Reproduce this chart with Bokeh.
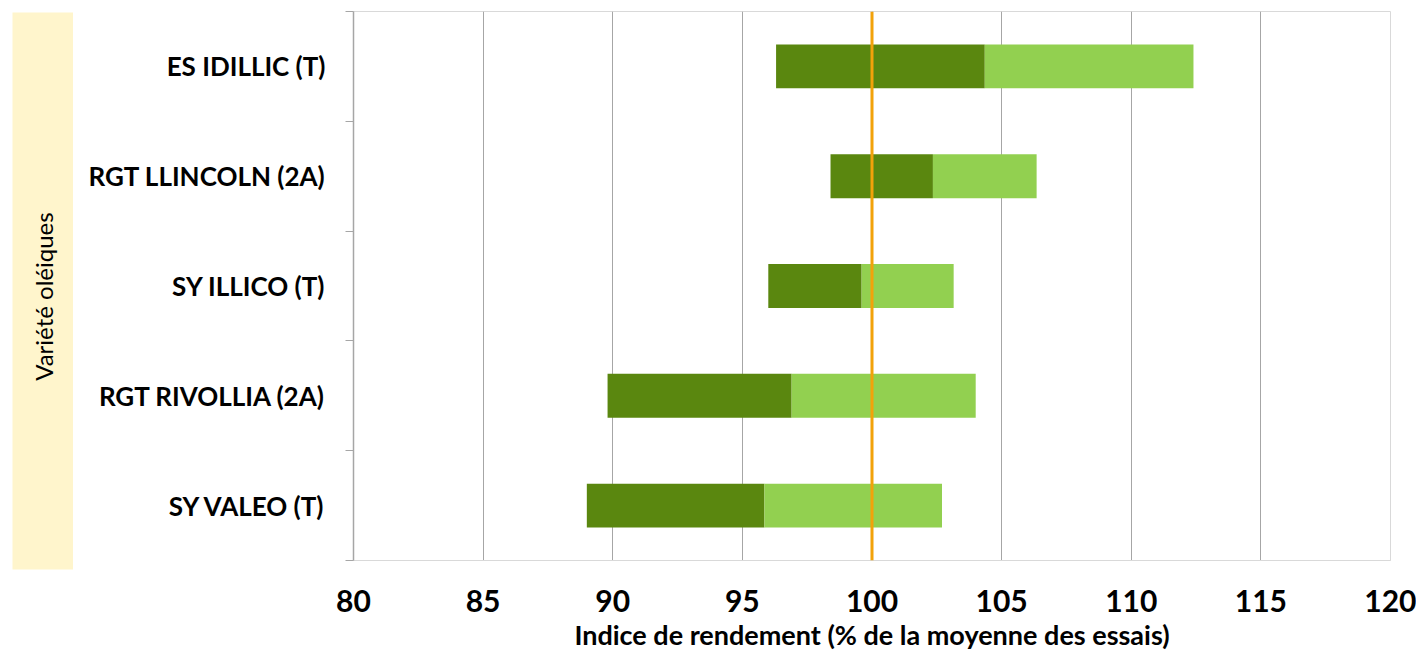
import math
from bokeh.plotting import figure
from bokeh.layouts import row
from bokeh.models import FixedTicker, Span
from bokeh.core.properties import value
from bokeh.embed import file_html
from bokeh.resources import INLINE

# --- data ---
varieties = ["ES IDILLIC (T)", "RGT LLINCOLN (2A)", "SY ILLICO (T)", "RGT RIVOLLIA (2A)", "SY VALEO (T)"]
low_vals = [96.3, 98.4, 96.0, 89.8, 89.0]
mean_vals = [104.35, 102.35, 99.6, 96.9, 95.85]
high_vals = [112.4, 106.35, 103.15, 104.0, 102.7]
x_ticks = [80, 85, 90, 95, 100, 105, 110, 115, 120]
reference_value = 100
y_title = "Variété oléiques"

n = len(varieties)
ypos = [n - 1 - i + 0.5 for i in range(n)]

FONT = "Lato"
DARK = "#5A870F"
LIGHT = "#92D050"
W, H = 1416, 654
BAND_W = 73

# ---- left band with the category title ----
band = figure(width=BAND_W, height=H, output_backend="svg", toolbar_location=None,
              x_range=(0, 1), y_range=(0, 1),
              min_border_left=12, min_border_right=0, min_border_top=12, min_border_bottom=H - 569)
band.frame_align = False
band.axis.visible = False
band.grid.visible = False
band.outline_line_color = None
band.background_fill_color = "#FFF5CC"
band.border_fill_color = "white"
band.text(x=[0.5], y=[0.49], text=[y_title], angle=math.pi / 2,
          text_align="center", text_baseline="middle",
          text_font=value(FONT), text_font_size="24px", text_color="black")

# ---- main chart ----
p = figure(width=W - BAND_W, height=H, output_backend="svg", toolbar_location=None,
           x_range=(80, 120), y_range=(0, n),
           min_border_left=353 - BAND_W, min_border_right=W - 1390, min_border_top=11,
           min_border_bottom=H - 560)
p.frame_align = False
p.background_fill_color = "white"
p.border_fill_color = "white"
p.outline_line_color = "#D9D9D9"
p.outline_line_width = 1

p.hbar(y=ypos, left=low_vals, right=mean_vals, height=0.4, fill_color=DARK, line_color=None)
p.hbar(y=ypos, left=mean_vals, right=high_vals, height=0.4, fill_color=LIGHT, line_color=None)

p.add_layout(Span(location=reference_value, dimension="height", line_color="#F2A20A", line_width=3))

# x axis
p.xaxis.ticker = FixedTicker(ticks=x_ticks)
p.xaxis.major_tick_line_color = None
p.xaxis.minor_tick_line_color = None
p.xaxis.axis_line_color = "#D9D9D9"
p.xaxis.major_label_text_font = FONT
p.xaxis.major_label_text_font_style = "bold"
p.xaxis.major_label_text_font_size = "30px"
p.xaxis.major_label_text_color = "black"
p.xaxis.major_label_standoff = 23
p.xaxis.axis_label = "Indice de rendement (% de la moyenne des essais)"
p.xaxis.axis_label_text_font = FONT
p.xaxis.axis_label_text_font_style = "bold"
p.xaxis.axis_label_text_font_size = "27px"
p.xaxis.axis_label_text_color = "black"
p.xaxis.axis_label_standoff = 3

# y axis
p.yaxis.ticker = FixedTicker(ticks=ypos, minor_ticks=list(range(n + 1)))
p.yaxis.major_label_overrides = {y: v for y, v in zip(ypos, varieties)}
p.yaxis.major_tick_line_color = None
p.yaxis.minor_tick_line_color = "#A6A6A6"
p.yaxis.minor_tick_out = 8
p.yaxis.minor_tick_in = 0
p.yaxis.axis_line_color = "#A6A6A6"
p.yaxis.axis_line_width = 1.5
p.yaxis.major_label_text_font = FONT
p.yaxis.major_label_text_font_style = "bold"
p.yaxis.major_label_text_font_size = "26px"
p.yaxis.major_label_text_color = "black"
p.yaxis.major_label_standoff = 20

p.xgrid.ticker = FixedTicker(ticks=x_ticks)
p.xgrid.grid_line_color = "#A6A6A6"
p.ygrid.grid_line_color = None

layout = row(band, p)
open("out.html", "w").write(file_html(layout, INLINE))
